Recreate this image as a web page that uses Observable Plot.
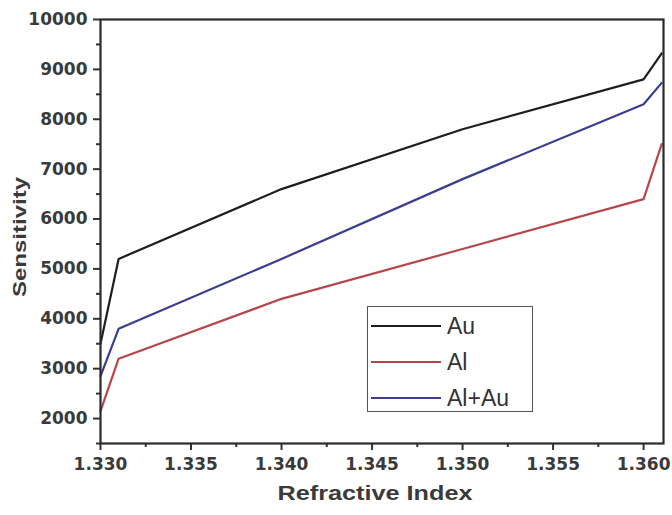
<!DOCTYPE html>
<html>
<head>
<meta charset="utf-8">
<script src="https://cdn.jsdelivr.net/npm/d3@7"></script>
<script src="https://cdn.jsdelivr.net/npm/@observablehq/plot@0.6"></script>
<style>
  html, body { margin: 0; padding: 0; background: #fff; }
  #wrap { position: relative; width: 672px; height: 515px; }
  #legend { position: absolute; left: 367px; top: 306px; width: 166px; height: 106px;
    border: 1.5px solid #555; box-sizing: border-box; background: #fff;
    font-family: "Liberation Sans", Arial, sans-serif; font-size: 23px; color: #333; }
  .row { position: absolute; left: 3px; height: 30px; display: flex; align-items: center; }
  .row span.sw { display: inline-block; width: 70px; height: 0; border-top: 2px solid; margin-right: 6px; }
</style>
</head>
<body>
<div id="wrap"></div>
<script>
const refractiveIndex = [1.330, 1.331, 1.340, 1.350, 1.360, 1.361];
const auValues   = [3500, 5200, 6600, 7800, 8800, 9320];
const alValues   = [2150, 3200, 4400, 5400, 6400, 7500];
const alAuValues = [2850, 3800, 5200, 6800, 8300, 8730];
const seriesNames  = ["Au", "Al", "Al+Au"];
const seriesColors = ["#1e1e1e", "#b5474a", "#3b3d8f"];
const xTicks = [1.330, 1.335, 1.340, 1.345, 1.350, 1.355, 1.360];
const xMinor = [1.3325, 1.3375, 1.3425, 1.3475, 1.3525, 1.3575];
const yTicks = [2000, 3000, 4000, 5000, 6000, 7000, 8000, 9000, 10000];
const yMinor = [1500, 2500, 3500, 4500, 5500, 6500, 7500, 8500, 9500];

const seriesValues = [auValues, alValues, alAuValues];
const data = seriesNames.flatMap((s, i) =>
  refractiveIndex.map((x, j) => ({series: s, x, y: seriesValues[i][j]})));

const plot = Plot.plot({
  width: 672, height: 515,
  marginLeft: 100, marginRight: 9, marginTop: 19, marginBottom: 72,
  style: {fontFamily: "DejaVu Sans, sans-serif", fontWeight: "bold", fontSize: "17px", color: "#333", background: "#fff"},
  x: {domain: [1.330, 1.3611]},
  y: {domain: [1500, 10000]},
  color: {domain: seriesNames, range: seriesColors},
  marks: [
    Plot.line(data, {x: "x", y: "y", z: "series", stroke: "series", strokeWidth: 2.2}),
    Plot.axisX({ticks: xTicks, tickFormat: d3.format(".3f"), tickSize: 7, tickPadding: 7, stroke: "#333", strokeWidth: 2, fill: "#3a3a3a", label: null}),
    Plot.axisX({ticks: xMinor, tickFormat: () => "", tickSize: 4, stroke: "#333", strokeWidth: 2, label: null}),
    Plot.axisY({ticks: yTicks, tickFormat: d => String(d), tickSize: 7, tickPadding: 6, stroke: "#333", strokeWidth: 2, fill: "#3a3a3a", label: null}),
    Plot.axisY({ticks: yMinor, tickFormat: () => "", tickSize: 4, stroke: "#333", strokeWidth: 2, label: null}),
    Plot.frame({stroke: "#2a2a2a", strokeWidth: 2.2})
  ]
});

const wrap = document.getElementById("wrap");
wrap.appendChild(plot);

// axis titles
const ns = "http://www.w3.org/2000/svg";
const tx = document.createElementNS(ns, "text");
tx.setAttribute("x", 375); tx.setAttribute("y", 500);
tx.setAttribute("text-anchor", "middle");
tx.setAttribute("font-family", "Liberation Sans, Arial, sans-serif");
tx.setAttribute("font-weight", "bold"); tx.setAttribute("font-size", "21");
tx.setAttribute("textLength", "195"); tx.setAttribute("lengthAdjust", "spacingAndGlyphs");
tx.setAttribute("fill", "#3a3a3a");
tx.textContent = "Refractive Index";
plot.appendChild(tx);
const ty = document.createElementNS(ns, "text");
ty.setAttribute("transform", "translate(26,237) rotate(-90)");
ty.setAttribute("text-anchor", "middle");
ty.setAttribute("font-family", "Liberation Sans, Arial, sans-serif");
ty.setAttribute("font-weight", "bold"); ty.setAttribute("font-size", "19");
ty.setAttribute("textLength", "120"); ty.setAttribute("lengthAdjust", "spacingAndGlyphs");
ty.setAttribute("fill", "#3a3a3a");
ty.textContent = "Sensitivity";
plot.appendChild(ty);

// legend
const lg = document.createElement("div");
lg.id = "legend";
seriesNames.forEach((s, i) => {
  const r = document.createElement("div");
  r.className = "row";
  r.style.top = (4 + i * 36) + "px";
  const sw = document.createElement("span");
  sw.className = "sw"; sw.style.borderTopColor = seriesColors[i];
  r.appendChild(sw);
  r.appendChild(document.createTextNode(s));
  lg.appendChild(r);
});
wrap.appendChild(lg);
</script>
</body>
</html>
